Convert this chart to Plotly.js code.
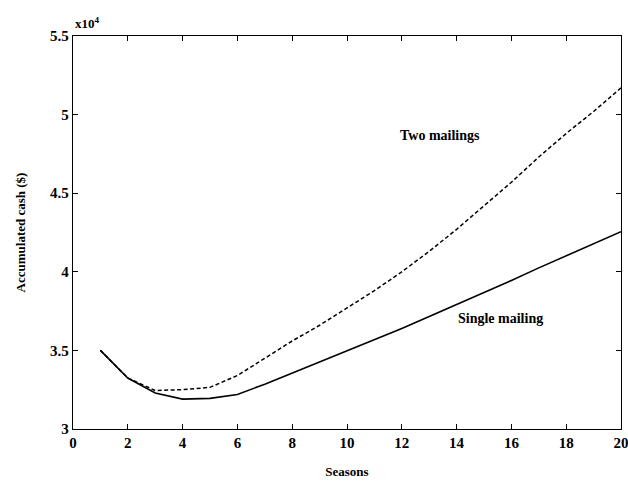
<!DOCTYPE html>
<html>
<head>
<meta charset="utf-8">
<script src="https://cdn.plot.ly/plotly-3.0.1.min.js"></script>
<style>html,body{margin:0;padding:0;background:#fff;}#chart{width:628px;height:482px;}</style>
</head>
<body>
<div id="chart"></div>
<script>
var seasons = [1,2,3,4,5,6,7,8,9,10,11,12,13,14,15,16,17,18,19,20];
var singleMailing = [35000,33240,32290,31900,31950,32200,32850,33550,34250,34950,35700,36400,37150,37900,38700,39450,40250,41000,41800,42550];
var twoMailings = [35000,33240,32450,32500,32650,33400,34500,35600,36600,37700,38800,40000,41300,42700,44200,45700,47300,48800,50200,51700];
var yTickVals = [30000,35000,40000,45000,50000,55000];
var yTickText = ["3","3.5","4","4.5","5","5.5"];
var xTickVals = [0,2,4,6,8,10,12,14,16,18,20];

var fontFam = "Liberation Serif";
var traces = [
  {x: seasons, y: singleMailing, mode: "lines", line: {color: "#000", width: 1.6}, name: "Single mailing"},
  {x: seasons, y: twoMailings, mode: "lines", line: {color: "#000", width: 1.5, dash: "4px,2.5px"}, name: "Two mailings"}
];
var axisCommon = {showgrid: false, zeroline: false, showline: true, linecolor: "#000", linewidth: 1.2, mirror: "ticks", ticks: "inside", ticklen: 5, tickcolor: "#000", ticklabeloverflow: "allow", tickfont: {family: fontFam, size: 15, color: "#000", weight: "bold"}};
var layout = {
  width: 628, height: 482,
  margin: {l: 73, r: 7, t: 36, b: 53},
  paper_bgcolor: "#fff", plot_bgcolor: "#fff",
  showlegend: false,
  font: {family: fontFam, color: "#000"},
  xaxis: Object.assign({}, axisCommon, {range: [0, 20], tickvals: xTickVals, automargin: false,
    title: {text: "<b>Seasons</b>", font: {family: fontFam, size: 13, color: "#000"}, standoff: 16}}),
  yaxis: Object.assign({}, axisCommon, {range: [30000, 55000], tickvals: yTickVals, ticktext: yTickText, automargin: false,
    title: {text: "<b>Accumulated cash ($)</b>", font: {family: fontFam, size: 13, color: "#000"}, standoff: 21}}),
  annotations: [
    {xref: "paper", yref: "paper", x: 0, y: 1, xanchor: "left", yanchor: "bottom", yshift: 3, showarrow: false,
     text: "<b>x10<sup>4</sup></b>", font: {family: fontFam, size: 13, color: "#000"}},
    {xref: "x", yref: "y", x: 13.4, y: 48640, showarrow: false, text: "<b>Two mailings</b>", font: {family: fontFam, size: 14, color: "#000"}},
    {xref: "x", yref: "y", x: 15.6, y: 37000, showarrow: false, text: "<b>Single mailing</b>", font: {family: fontFam, size: 14, color: "#000"}}
  ]
};
Plotly.newPlot("chart", traces, layout, {staticPlot: true});
</script>
</body>
</html>
